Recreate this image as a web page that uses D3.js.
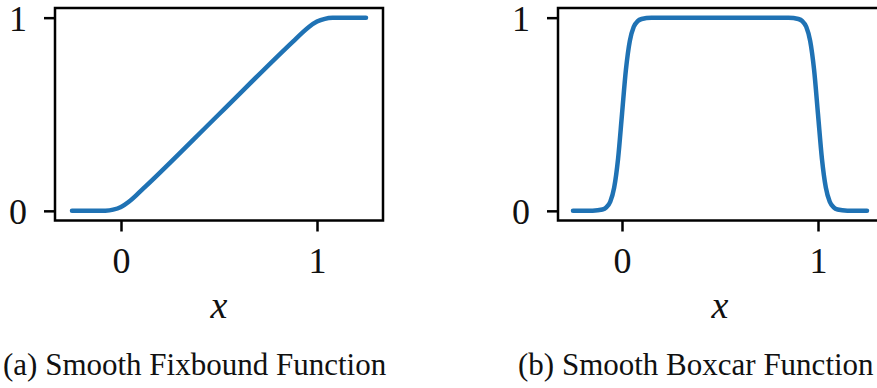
<!DOCTYPE html>
<html>
<head>
<meta charset="utf-8">
<script src="https://cdn.jsdelivr.net/npm/d3@7"></script>
<style>
  html, body { margin: 0; padding: 0; background: #fff; }
  svg { display: block; }
  text { font-family: "Liberation Serif", "DejaVu Serif", serif; fill: #111; }
</style>
</head>
<body>
<svg id="chart" width="877" height="388"></svg>
<script>
// Smooth fixbound: flat at 0, ramps linearly, flat at 1
const fixboundX = [-0.25, -0.15, -0.08, -0.04, 0, 0.04, 0.08, 0.12, 0.5, 0.88, 0.92, 0.96, 1.0, 1.04, 1.08, 1.15, 1.25];
const fixboundY = [0, 0, 0.001, 0.006, 0.02, 0.047, 0.083, 0.121, 0.5, 0.879, 0.917, 0.953, 0.98, 0.994, 0.999, 1, 1];

// Smooth boxcar: sharp rise near 0, plateau at 1, sharp fall near 1
const boxcarX = [-0.25, -0.15, -0.1, -0.08, -0.06, -0.04, -0.02, 0, 0.02, 0.04, 0.06, 0.08, 0.1, 0.15, 0.5,
                 0.85, 0.9, 0.92, 0.94, 0.96, 0.98, 1.0, 1.02, 1.04, 1.06, 1.08, 1.1, 1.15, 1.25];
const boxcarY = [0, 0.001, 0.007, 0.018, 0.047, 0.12, 0.27, 0.5, 0.73, 0.88, 0.953, 0.982, 0.993, 1, 1,
                 1, 0.993, 0.982, 0.953, 0.88, 0.73, 0.5, 0.27, 0.12, 0.047, 0.018, 0.007, 0.001, 0];

const xTicks = [0, 1];
const yTicks = [0, 1];
const xLabel = "x";
const captions = ["(a) Smooth Fixbound Function", "(b) Smooth Boxcar Function"];

const svg = d3.select("#chart");
const lineColor = "#1f72b4";

const panels = [
  { xs: fixboundX, ys: fixboundY, left: 55, right: 383, xDomain: [-0.3367, 1.3367], captionX: 3 },
  { xs: boxcarX, ys: boxcarY, left: 558, right: 886, xDomain: [-0.3265, 1.3469], captionX: 518 }
];

const frameTop = 8, frameBottom = 220.5;

panels.forEach((p, i) => {
  const x = d3.scaleLinear().domain(p.xDomain).range([p.left, p.right]);
  const y = d3.scaleLinear().domain([-0.05, 1.05]).range([frameBottom, frameTop]);
  const g = svg.append("g");

  // data line
  const data = p.xs.map((v, k) => [v, p.ys[k]]);
  g.append("path")
    .datum(data)
    .attr("fill", "none")
    .attr("stroke", lineColor)
    .attr("stroke-width", 4.5)
    .attr("stroke-linecap", "round")
    .attr("stroke-linejoin", "round")
    .attr("d", d3.line().x(d => x(d[0])).y(d => y(d[1])).curve(d3.curveMonotoneX));

  // frame
  g.append("rect")
    .attr("x", p.left).attr("y", frameTop)
    .attr("width", p.right - p.left).attr("height", frameBottom - frameTop)
    .attr("fill", "none").attr("stroke", "#000").attr("stroke-width", 2.5);

  // x axis
  const xAxis = g.append("g")
    .attr("transform", `translate(0,${frameBottom})`)
    .call(d3.axisBottom(x).tickValues(xTicks).tickFormat(d3.format("d")).tickSize(11).tickPadding(20));
  xAxis.select(".domain").remove();
  xAxis.selectAll(".tick line").attr("stroke", "#000").attr("stroke-width", 2.5);
  xAxis.selectAll(".tick text")
    .attr("font-size", 36).attr("font-family", "Liberation Serif, serif").attr("fill", "#111")
    .attr("dy", null).attr("y", 52.5);

  // y axis
  const yAxis = g.append("g")
    .attr("transform", `translate(${p.left},0)`)
    .call(d3.axisLeft(y).tickValues(yTicks).tickFormat(d3.format("d")).tickSize(11).tickPadding(17));
  yAxis.select(".domain").remove();
  yAxis.selectAll(".tick line").attr("stroke", "#000").attr("stroke-width", 2.5);
  yAxis.selectAll(".tick text")
    .attr("font-size", 36).attr("font-family", "Liberation Serif, serif").attr("fill", "#111")
    .attr("dy", "0.35em");

  // axis label
  g.append("text")
    .attr("x", (x(0) + x(1)) / 2).attr("y", 318)
    .attr("text-anchor", "middle")
    .attr("font-size", 38).attr("font-style", "italic")
    .text(xLabel);

  // caption
  svg.append("text")
    .attr("x", p.captionX).attr("y", 375)
    .attr("font-size", 31)
    .text(captions[i]);
});
</script>
</body>
</html>
